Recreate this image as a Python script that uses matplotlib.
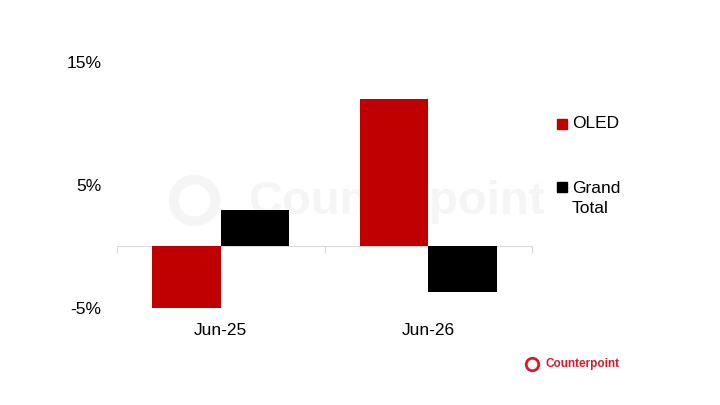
import matplotlib.pyplot as plt
import matplotlib.transforms as mtransforms
from matplotlib.patches import Rectangle
from matplotlib.lines import Line2D
import numpy as np

plt.rcParams['font.family'] = ['Liberation Sans', 'DejaVu Sans']

# Data
categories = ['Jun-25', 'Jun-26']
series_names = ['OLED', 'Grand\nTotal']
oled = [-5.0, 12.0]
grand_total = [3.0, -3.7]
colors = ['#c00000', '#000000']
yticks = [-5, 5, 15]
ytick_labels = ['-5%', '5%', '15%']

fig = plt.figure(figsize=(7.2, 4.05), dpi=100)
ax = fig.add_axes([0.1625, 0.2395, 0.5765, 0.6075])
ax.patch.set_alpha(0)

# watermark, behind the bars
ax.add_line(Line2D([0.27], [0.505], marker='o', markersize=30, markerfacecolor='none',
                   markeredgecolor='#f5f5f5', markeredgewidth=7, transform=fig.transFigure,
                   zorder=0))
ax.text(0.345, 0.5, 'Counterpoint', fontsize=34, fontweight='bold', color='#f5f5f5',
        ha='left', va='center', transform=fig.transFigure, zorder=0)

x = np.arange(len(categories))
w = 0.33
ax.bar(x - w / 2, oled, width=w, color=colors[0], zorder=3)
ax.bar(x + w / 2, grand_total, width=w, color=colors[1], zorder=3)

ax.set_xlim(-0.5, len(categories) - 0.5)
ax.set_ylim(-5, 15)

# axis line at zero with ticks at category boundaries
for s in ['top', 'right', 'left']:
    ax.spines[s].set_visible(False)
ax.spines['bottom'].set_position(('data', 0))
ax.spines['bottom'].set_color('#d9d9d9')
ax.spines['bottom'].set_zorder(2)
ax.set_xticks(np.arange(len(categories) + 1) - 0.5)
ax.set_xticklabels([])
ax.tick_params(axis='x', direction='out', length=5, color='#d9d9d9')

ax.set_yticks(yticks)
ax.set_yticklabels(ytick_labels, fontsize=12.5)
ax.tick_params(axis='y', length=0, pad=11)

trans = mtransforms.blended_transform_factory(ax.transData, ax.transAxes)
for xi, lab in zip(x, categories):
    ax.text(xi, -0.09, lab, transform=trans, ha='center', va='center', fontsize=12.5)

# legend (manual, square aligned with first text line)
leg_y = [0.694, 0.538]
for c, name, yy in zip(colors, series_names, leg_y):
    fig.add_artist(Rectangle((0.774, yy - 0.0125), 0.0139, 0.025, color=c,
                             transform=fig.transFigure))
    if '\n' in name:
        fig.text(0.794, yy + 0.015, name, fontsize=12.5, ha='left', va='top',
                 linespacing=1.45)
    else:
        fig.text(0.794, yy, name, fontsize=12.5, ha='left', va='center')

# logo
fig.add_artist(Line2D([0.739], [0.101], marker='o', markersize=9, markerfacecolor='none',
                      markeredgecolor='#d7192a', markeredgewidth=2, transform=fig.transFigure))
fig.text(0.757, 0.101, 'Counterpoint', fontsize=8.5, fontweight='bold', color='#d7192a',
         ha='left', va='center')

fig.savefig('out.png', dpi=100)
